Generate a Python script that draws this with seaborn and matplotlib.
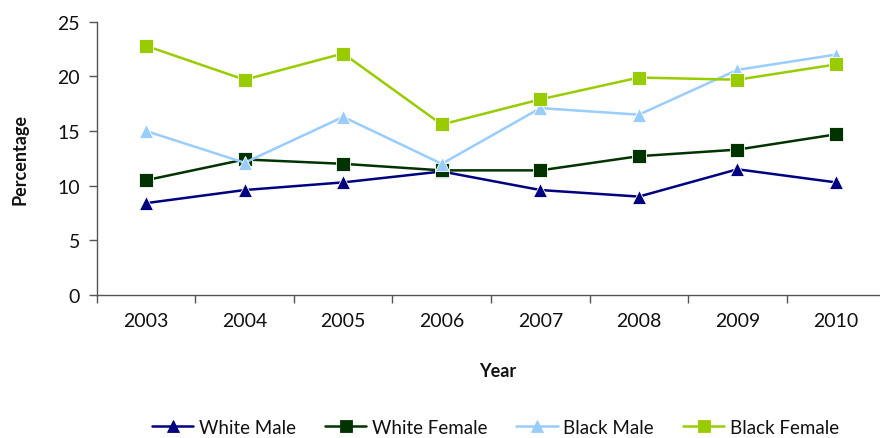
import matplotlib
matplotlib.use("Agg")
import matplotlib.pyplot as plt
from matplotlib.ticker import FixedLocator
from matplotlib.lines import Line2D
import seaborn as sns
import pandas as pd

years = ["2003", "2004", "2005", "2006", "2007", "2008", "2009", "2010"]
white_male = [8.4, 9.6, 10.3, 11.3, 9.6, 9.0, 11.5, 10.3]
white_female = [10.5, 12.4, 12.0, 11.4, 11.4, 12.7, 13.3, 14.7]
black_male = [15.0, 12.1, 16.3, 12.0, 17.1, 16.5, 20.6, 22.0]
black_female = [22.8, 19.7, 22.1, 15.6, 17.9, 19.9, 19.7, 21.1]

series_names = ["White Male", "White Female", "Black Male", "Black Female"]
series_values = [white_male, white_female, black_male, black_female]
colors = ["#000080", "#003300", "#99CCFF", "#99CC00"]
markers = ["^", "s", "^", "s"]

rows = []
for name, vals in zip(series_names, series_values):
    for i, (yr, v) in enumerate(zip(years, vals)):
        rows.append({"pos": i, "Year": yr, "Percentage": v, "Group": name})
df = pd.DataFrame(rows)

sns.set_theme(style="white")
plt.rcParams["font.family"] = ["Lato", "DejaVu Sans"]

fig = plt.figure(figsize=(8.8, 4.39), dpi=100)
# plot area runs from the left axis to just past the right edge of the canvas
ax = fig.add_axes([0.110, 0.326, 0.896, 0.622])

sns.lineplot(
    data=df, x="pos", y="Percentage", hue="Group", style="Group",
    hue_order=series_names, style_order=series_names,
    palette=dict(zip(series_names, colors)),
    markers=dict(zip(series_names, markers)),
    dashes=False, linewidth=1.8, markersize=10, markeredgewidth=0.6,
    ax=ax, legend=False,
)

ax.set_xlim(-0.5, len(years) - 0.5)
ax.set_ylim(0, 25)
ax.set_yticks([0, 5, 10, 15, 20, 25])
ax.set_xticks(range(len(years)))
ax.set_xticklabels(years)
ax.xaxis.set_minor_locator(FixedLocator([i - 0.5 for i in range(len(years) + 1)]))
ax.tick_params(axis="x", which="major", length=0, pad=12, labelsize=14, colors="#111111")
ax.tick_params(axis="x", which="minor", length=6, width=1, direction="out", color="#555555", bottom=True)
ax.tick_params(axis="y", length=6, width=1, direction="out", color="#555555", left=True,
               labelsize=14, colors="#111111", pad=6)

for side in ["top", "right"]:
    ax.spines[side].set_visible(False)
for side in ["left", "bottom"]:
    ax.spines[side].set_color("#555555")
    ax.spines[side].set_linewidth(1)

ax.set_xlabel("Year", fontsize=13, fontweight="bold", color="#111111")
ax.set_ylabel("Percentage", fontsize=13, fontweight="bold", color="#111111")
ax.xaxis.set_label_coords(0.508, -0.245)
ax.yaxis.set_label_coords(-0.087, 0.5)

handles = [Line2D([0], [0], color=c, marker=m, linewidth=1.8, markersize=8,
                  markeredgewidth=0.6)
           for c, m in zip(colors, markers)]
fig.legend(handles, series_names, loc="center", bbox_to_anchor=(0.563, 0.025),
           ncol=4, frameon=False, fontsize=13.5, handlelength=2.2,
           columnspacing=1.55, handletextpad=0.3, labelcolor="#111111")

fig.savefig("out.png", dpi=100)
